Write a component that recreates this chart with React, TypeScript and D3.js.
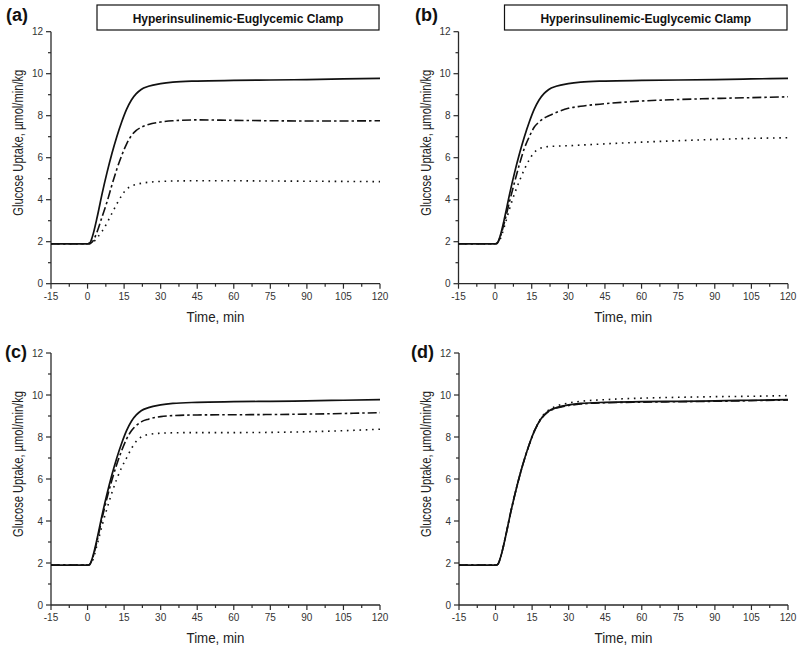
import React from "react";
import * as d3 from "d3";

const TIME = [-15, 0, 1, 2, 4, 6, 8, 10, 12, 14, 16, 18, 20, 22, 25, 30, 35, 45, 60, 75, 90, 105, 120];

const SOLID = [1.9, 1.9, 1.95, 2.25, 3.2, 4.3, 5.3, 6.2, 7.0, 7.7, 8.3, 8.75, 9.05, 9.25, 9.4, 9.53, 9.6, 9.65, 9.68, 9.7, 9.72, 9.75, 9.78];

const A_DASHDOT = [1.9, 1.9, 1.92, 2.0, 2.5, 3.2, 3.9, 4.7, 5.45, 6.1, 6.65, 7.05, 7.3, 7.45, 7.58, 7.7, 7.76, 7.8, 7.78, 7.76, 7.75, 7.75, 7.76];
const A_DOTTED = [1.9, 1.9, 1.9, 1.95, 2.2, 2.5, 2.9, 3.35, 3.8, 4.2, 4.5, 4.65, 4.73, 4.78, 4.83, 4.87, 4.89, 4.9, 4.9, 4.89, 4.88, 4.87, 4.86];

const B_DASHDOT = [1.9, 1.9, 1.95, 2.2, 3.0, 3.95, 4.85, 5.7, 6.45, 7.0, 7.45, 7.7, 7.88, 8.0, 8.15, 8.35, 8.45, 8.57, 8.7, 8.77, 8.82, 8.86, 8.9];
const B_DOTTED = [1.9, 1.9, 1.93, 2.1, 2.8, 3.6, 4.3, 4.9, 5.45, 5.9, 6.25, 6.42, 6.5, 6.53, 6.55, 6.57, 6.6, 6.66, 6.74, 6.81, 6.87, 6.92, 6.95];

const C_DASHDOT = [1.9, 1.9, 1.95, 2.2, 3.1, 4.15, 5.1, 5.95, 6.7, 7.35, 7.9, 8.3, 8.55, 8.72, 8.85, 8.97, 9.02, 9.05, 9.06, 9.07, 9.09, 9.12, 9.16];
const C_DOTTED = [1.9, 1.9, 1.93, 2.1, 2.9, 3.8, 4.6, 5.35, 6.0, 6.55, 7.0, 7.45, 7.8, 8.0, 8.12, 8.18, 8.2, 8.21, 8.21, 8.22, 8.25, 8.3, 8.37];

const D_DASHDOT = [1.9, 1.9, 1.95, 2.25, 3.2, 4.3, 5.3, 6.2, 7.0, 7.7, 8.3, 8.74, 9.04, 9.23, 9.38, 9.5, 9.57, 9.63, 9.66, 9.68, 9.7, 9.73, 9.76];
const D_DOTTED = [1.9, 1.9, 1.95, 2.25, 3.2, 4.3, 5.3, 6.2, 7.0, 7.7, 8.3, 8.78, 9.1, 9.3, 9.47, 9.62, 9.7, 9.78, 9.85, 9.89, 9.92, 9.94, 9.97];

const X_TICKS = [-15, 0, 15, 30, 45, 60, 75, 90, 105, 120];
const Y_TICKS = [0, 2, 4, 6, 8, 10, 12];
const PANEL_LETTERS = ["(a)", "(b)", "(c)", "(d)"];
const TITLE = "Hyperinsulinemic-Euglycemic Clamp";
const X_LABEL = "Time, min";
const Y_LABEL = "Glucose Uptake, \u00b5mol/min/kg";

const FONT = "'Liberation Sans', Arial, Helvetica, sans-serif";

type PanelProps = {
  letter: string;
  left: number;
  right: number;
  top: number;
  bottom: number;
  dashdot: number[];
  dotted: number[];
  title: boolean;
  letterX: number;
  letterY: number;
};

function Panel(p: PanelProps) {
  const x = d3.scaleLinear().domain([-15, 120]).range([p.left, p.right]);
  const y = d3.scaleLinear().domain([0, 12]).range([p.bottom, p.top]);
  const line = d3
    .line<number>()
    .x((_, i) => x(TIME[i]))
    .y((v) => y(v))
    .curve(d3.curveMonotoneX);

  const xMinor = d3.range(-15, 120.01, 7.5);
  const yMinor = d3.range(0, 12.01, 1);
  const axisColor = "#2a2a2a";
  const cx = (p.left + p.right) / 2;
  const cy = (p.top + p.bottom) / 2;

  return (
    <g>
      <text x={p.letterX} y={p.letterY} fontFamily={FONT} fontWeight="bold" fontSize={18} fill="#111">
        {p.letter}
      </text>
      {p.title && (
        <g>
          <rect x={p.left + 46} y={5} width={p.right - p.left - 47} height={25} fill="none" stroke="#111" strokeWidth={1.2} />
          <text
            x={(p.left + 46 + p.right - 1) / 2}
            y={22.5}
            textAnchor="middle"
            fontFamily={FONT}
            fontWeight="bold"
            fontSize={12}
            fill="#111"
          >
            {TITLE}
          </text>
        </g>
      )}
      {/* axes */}
      <line x1={p.left} x2={p.left} y1={p.top} y2={p.bottom} stroke={axisColor} strokeWidth={1.3} />
      <line x1={p.left} x2={p.right} y1={p.bottom} y2={p.bottom} stroke={axisColor} strokeWidth={1.3} />
      {xMinor.map((t) => {
        const major = Math.abs(t % 15) < 1e-6;
        return (
          <line
            key={"xt" + t}
            x1={x(t)}
            x2={x(t)}
            y1={p.bottom}
            y2={p.bottom + (major ? 5 : 3)}
            stroke={axisColor}
            strokeWidth={1.2}
          />
        );
      })}
      {yMinor.map((v) => {
        const major = v % 2 === 0;
        return (
          <line
            key={"yt" + v}
            x1={p.left - (major ? 5 : 3)}
            x2={p.left}
            y1={y(v)}
            y2={y(v)}
            stroke={axisColor}
            strokeWidth={1.2}
          />
        );
      })}
      {X_TICKS.map((t) => (
        <text key={"xl" + t} x={x(t)} y={p.bottom + 16} textAnchor="middle" fontFamily={FONT} fontSize={10} fill="#333">
          {t}
        </text>
      ))}
      {Y_TICKS.map((v) => (
        <text
          key={"yl" + v}
          x={p.left - 8}
          y={y(v) + 3.5}
          textAnchor="end"
          fontFamily={FONT}
          fontSize={10}
          fill="#333"
        >
          {v}
        </text>
      ))}
      <text
        x={cx}
        y={p.bottom + 38}
        textAnchor="middle"
        fontFamily={FONT}
        fontSize={14}
        fill="#222"
        textLength={58}
        lengthAdjust="spacingAndGlyphs"
      >
        {X_LABEL}
      </text>
      <text
        transform={`translate(${p.left - 28},${cy - 15}) rotate(-90)`}
        textAnchor="middle"
        fontFamily={FONT}
        fontSize={14}
        fill="#222"
        textLength={146}
        lengthAdjust="spacingAndGlyphs"
      >
        {Y_LABEL}
      </text>
      {/* series */}
      <path d={line(p.dotted) || ""} fill="none" stroke="#111" strokeWidth={1.6} strokeDasharray="1.6,4.7" />
      <path d={line(p.dashdot) || ""} fill="none" stroke="#111" strokeWidth={1.6} strokeDasharray="9,3,2.5,3" />
      <path d={line(SOLID) || ""} fill="none" stroke="#111" strokeWidth={1.7} />
    </g>
  );
}

export default function App() {
  return (
    <svg
      width={800}
      height={649}
      viewBox="0 0 800 649"
      style={{ position: "absolute", left: 0, top: 0, display: "block", background: "#fff" }}
    >
      <rect x={0} y={0} width={800} height={649} fill="#fff" />
      <Panel letter={PANEL_LETTERS[0]} left={51} right={380} top={31.7} bottom={283.7} dashdot={A_DASHDOT} dotted={A_DOTTED} title={true} letterX={6} letterY={21} />
      <Panel letter={PANEL_LETTERS[1]} left={458.5} right={788} top={31.7} bottom={283.7} dashdot={B_DASHDOT} dotted={B_DOTTED} title={true} letterX={415} letterY={21} />
      <Panel letter={PANEL_LETTERS[2]} left={51} right={380} top={353} bottom={605} dashdot={C_DASHDOT} dotted={C_DOTTED} title={false} letterX={5} letterY={358} />
      <Panel letter={PANEL_LETTERS[3]} left={459} right={788} top={353} bottom={605} dashdot={D_DASHDOT} dotted={D_DOTTED} title={false} letterX={411} letterY={358} />
    </svg>
  );
}
